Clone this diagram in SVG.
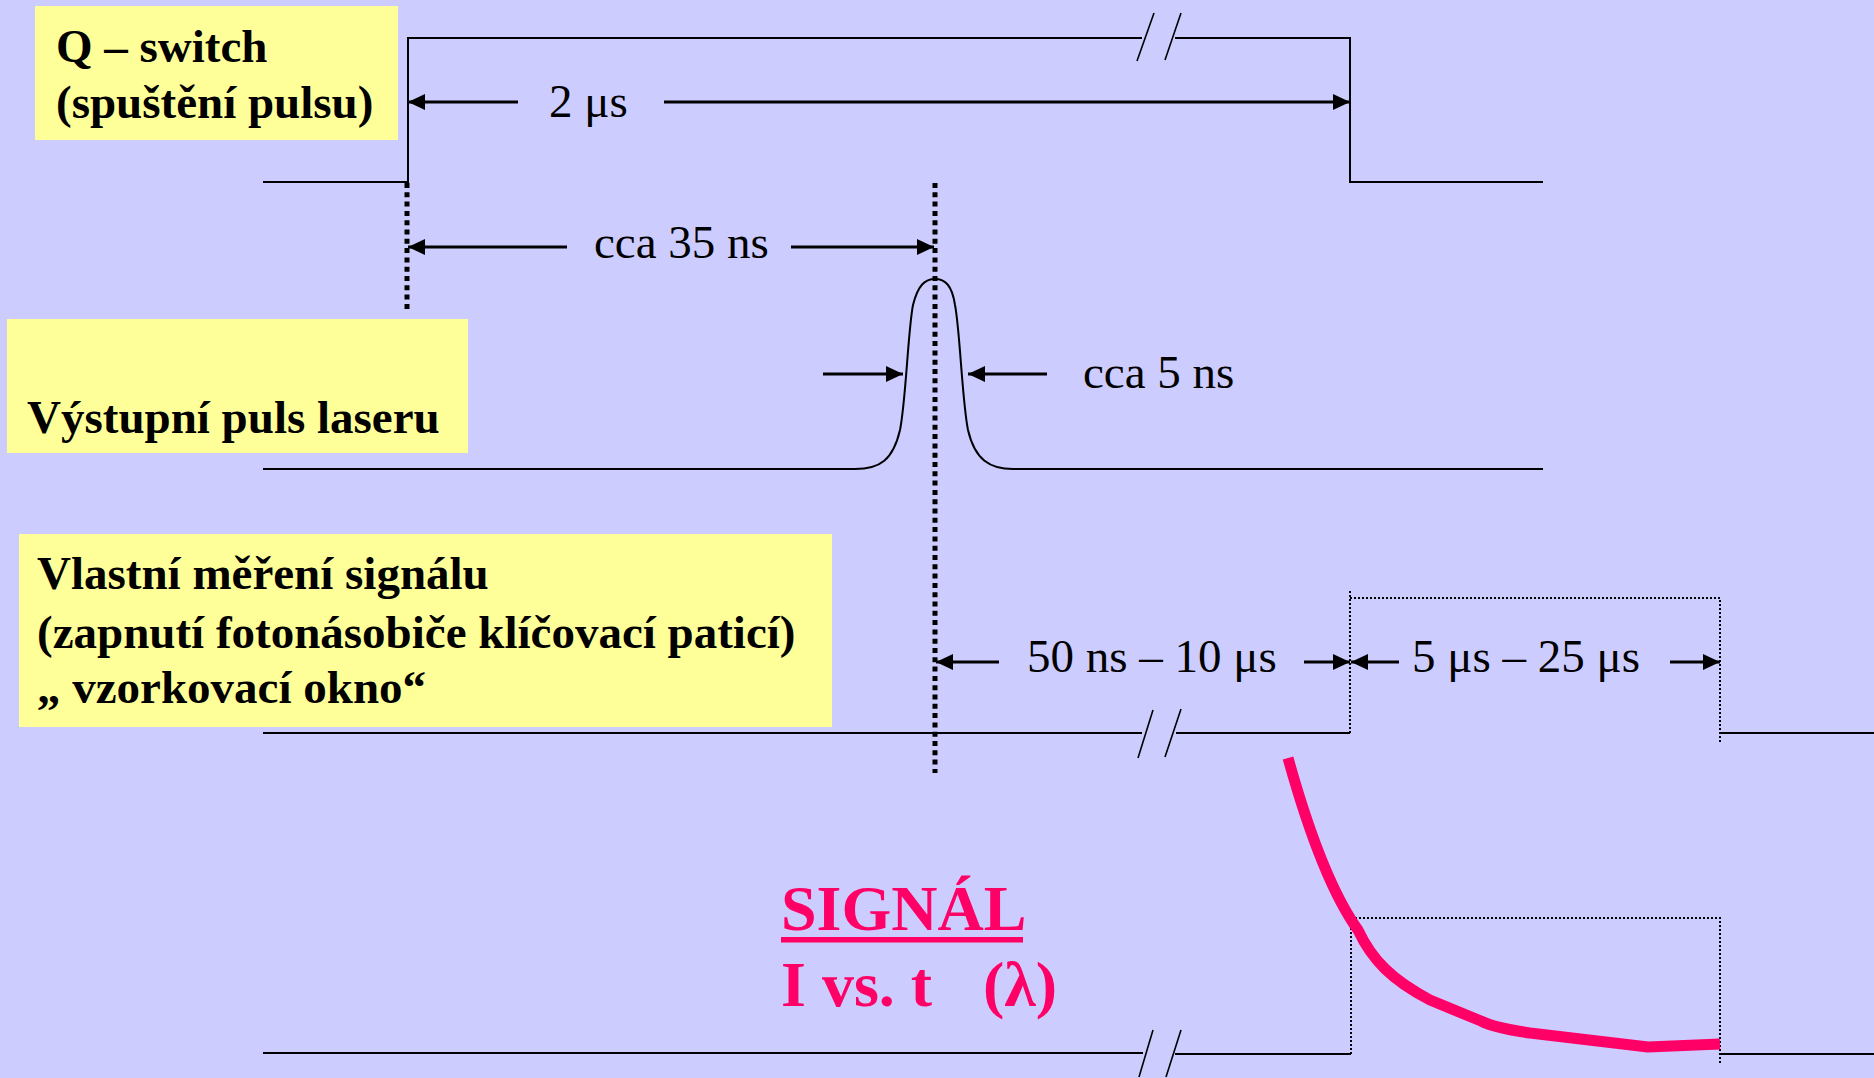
<svg xmlns="http://www.w3.org/2000/svg" width="1874" height="1078" viewBox="0 0 1874 1078">
<style>
.box{fill:#FFFF99}
.lbl{font-family:'Liberation Serif','Times New Roman',Tinos,'DejaVu Serif',serif;font-size:47px;font-weight:bold;fill:#000}
.dim{font-family:'Liberation Serif','Times New Roman',Tinos,'DejaVu Serif',serif;font-size:47px;fill:#000}
.sig{fill:none;stroke:#000;stroke-width:2}
.slash{fill:none;stroke:#000;stroke-width:1.6}
.arr{fill:none;stroke:#000;stroke-width:3;marker-end:url(#ah)}
.dots{fill:none;stroke:#000;stroke-width:5;stroke-dasharray:5 4.3}
.fine{fill:none;stroke:#000;stroke-width:2;stroke-dasharray:2 2}
.pink{font-family:'Liberation Serif','Times New Roman',Tinos,'DejaVu Serif',serif;font-size:64px;font-weight:bold;fill:#FF0066}
</style>
<defs>
<marker id="ah" viewBox="0 0 17 16" refX="17" refY="8" markerWidth="17" markerHeight="16" orient="auto" markerUnits="userSpaceOnUse"><path d="M0,0 L17,8 L0,16 z" fill="#000"/></marker>
</defs>
<rect width="1874" height="1078" fill="#CCCCFF"/>

<g id="qswitch">
<rect class="box" x="35" y="6" width="363" height="134"/>
<text class="lbl" x="56" y="62">Q – switch</text>
<text class="lbl" x="56" y="118">(spuštění pulsu)</text>
</g>

<g id="laser">
<rect class="box" x="7" y="319" width="461" height="134"/>
<text class="lbl" x="27" y="433">Výstupní puls laseru</text>
</g>

<g id="mereni">
<rect class="box" x="19" y="534" width="813" height="193"/>
<text class="lbl" x="37" y="589">Vlastní měření signálu</text>
<text class="lbl" x="37" y="648">(zapnutí fotonásobiče klíčovací paticí)</text>
<text class="lbl" x="37" y="703">„ vzorkovací okno“</text>
</g>

<g id="signal-label">
<text class="pink" x="781" y="930">SIGNÁL</text>
<rect x="781" y="937" width="242" height="5.5" fill="#FF0066"/>
<text class="pink" x="781" y="1006">I vs. t<tspan x="983">(λ)</tspan></text>
</g>

<g id="connectors">
<path class="sig" d="M263,182 H408 V38 H1142 M1175,38 H1350 V182 H1543"/>
<path class="slash" d="M1137,61 L1154,13 M1165,60 L1181,13"/>
<path class="sig" d="M263,469 H855 C880,469 893,460 900,430 C906,400 908,330 913,305 C918,285 925,279 935,279 C945,279 952,285 955,305 C960,330 962,400 968,430 C975,460 990,469 1013,469 H1543"/>
<path class="sig" d="M263,733 H1142 M1176,733 H1350 M1720,733 H1874"/>
<path class="slash" d="M1138,758 L1153,710 M1165,757 L1181,709"/>
<path class="fine" d="M1350,733 V591 M1350,598 H1720 V743"/>
<path class="sig" d="M263,1053 H1143 M1175,1054 H1351 M1720,1054 H1874"/>
<path class="slash" d="M1139,1077 L1153,1030 M1166,1077 L1181,1030"/>
<path class="fine" d="M1351,1054 V918 H1720 V1063"/>
<path class="dots" d="M407,183 V310"/>
<path class="dots" d="M935,183 V773"/>
<path class="arr" d="M518,102 H408"/>
<path class="arr" d="M664,102 H1350"/>
<path class="arr" d="M567,247 H408"/>
<path class="arr" d="M791,247 H934"/>
<path class="arr" d="M823,374 H903"/>
<path class="arr" d="M1047,374 H968"/>
<path class="arr" d="M999,662 H936"/>
<path class="arr" d="M1304,662 H1350"/>
<path class="arr" d="M1399,662 H1351"/>
<path class="arr" d="M1670,662 H1720"/>
<path d="M1288,758 Q1322,880 1358,930 C1372,960 1392,980 1430,1000 L1481,1021 Q1495,1028 1530,1033 L1648,1047 L1720,1044" fill="none" stroke="#FF0066" stroke-width="11" stroke-linejoin="round"/>
</g>

<g id="dim-labels">
<text class="dim" x="549" y="117">2 μs</text>
<text class="dim" x="594" y="258">cca 35 ns</text>
<text class="dim" x="1083" y="388">cca 5 ns</text>
<text class="dim" x="1027" y="672">50 ns – 10 μs</text>
<text class="dim" x="1412" y="672">5 μs – 25 μs</text>
</g>
</svg>
